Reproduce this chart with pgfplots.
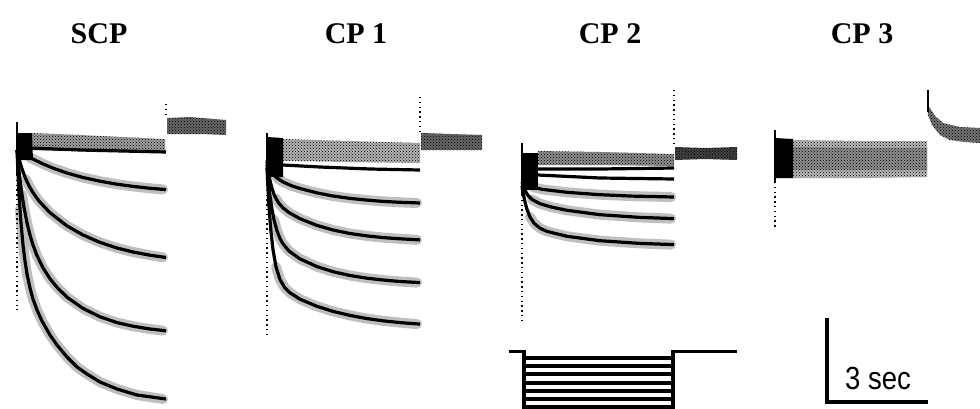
\documentclass[border=0pt]{standalone}
\usepackage{pgfplots}
\pgfplotsset{compat=1.18}
\usetikzlibrary{patterns}
\usepackage{fontspec}
\setmainfont{Liberation Serif}
\newfontfamily\sansf{Liberation Sans}
\tikzset{
  trace/.style={black, line width=3.2pt, line join=round},
  halo/.style={black!25, line width=10pt, line cap=round, line join=round},
  band/.style={fill=black!#1, draw=none},
  dots/.style={pattern=crosshatch dots, pattern color=black, draw=none},
  dotv/.style={black, line width=1.3pt, dash pattern=on 1.3pt off 3.5pt},
  prot/.style={black, line width=3.2pt},
  ttl/.style={anchor=base, font=\fontsize{30}{34}\selectfont\bfseries}}
\begin{document}
\begin{tikzpicture}
\useasboundingbox (0,0) rectangle (980pt,408pt);
\begin{axis}[at={(0,0)}, anchor=south west, scale only axis,
  width=980pt, height=408pt, xmin=0, xmax=980, ymin=0, ymax=408,
  y dir=reverse, hide axis, clip=false, no markers]

% ---------- titles ----------
\node[ttl] at (axis cs:99,43) {SCP};
\node[ttl] at (axis cs:356,43) {CP 1};
\node[ttl] at (axis cs:610,43) {CP 2};
\node[ttl] at (axis cs:862,43) {CP 3};

% ================= SCP (pulse 17 -> 166) =================
\addplot[halo] coordinates {(30,157.6)(42,163.5)(54,168.5)(67,173)(83,177.5)(100,181.2)(117,184.2)(133,186.4)(150,188.3)(163,189.4)};
\addplot[halo] coordinates {(26,179.4)(29,185.7)(33,192.7)(39,201)(50,212.7)(67,225.9)(83,235)(100,242.4)(117,248)(133,252)(150,255.2)(163,257.3)};
\addplot[halo] coordinates {(22,194.6)(24,207.4)(27,222.8)(30,235.1)(33,245)(37,255.6)(43,267.8)(50,278.7)(57,287.3)(67,297.2)(83,308.4)(100,316.8)(117,322.6)(133,326.2)(150,329)(163,330.6)};
\addplot[halo] coordinates {(20,209)(21,223)(23,245)(25,261)(27,274)(30,288)(33,299)(37,310)(42,321)(50,335)(57,345)(67,357)(77,367)(87,374)(100,382)(117,389)(137,395)(163,399)};
\addplot[band=38] coordinates {(30,133)(80,135)(165,139)(165,153)(80,151)(30,150)} -- cycle;
\addplot[dots] coordinates {(30,133)(80,135)(165,139)(165,153)(80,151)(30,150)} -- cycle;
\addplot[band=60] coordinates {(167,118)(190,117)(226,120)(226,135)(200,134)(167,134)} -- cycle;
\addplot[dots] coordinates {(167,118)(190,117)(226,120)(226,135)(200,134)(167,134)} -- cycle;
\addplot[fill=black, draw=none] coordinates {(17,133)(32,133)(33,160)(17,160)} -- cycle;
\addplot[black, line width=2pt] coordinates {(17,122)(17,175)};
\addplot[dotv] coordinates {(17,175)(17,310)};
\addplot[dotv] coordinates {(166,104)(166,118)};
\addplot[trace] coordinates {(17,145)(30,148)(80,150)(166,152)};
\addplot[trace] coordinates {(17,150)(23,153.7)(30,157.6)(42,163.5)(54,168.5)(67,173)(83,177.5)(100,181.2)(117,184.2)(133,186.4)(150,188.3)(166,189.6)};
\addplot[trace] coordinates {(17,150)(19,158.5)(21,165.6)(23,171.8)(26,179.4)(29,185.7)(33,192.7)(39,201)(50,212.7)(67,225.9)(83,235)(100,242.4)(117,248)(133,252)(150,255.2)(166,257.5)};
\addplot[trace] coordinates {(17,150)(18,160.7)(19,170.5)(20,179.3)(22,194.6)(24,207.4)(27,222.8)(30,235.1)(33,245)(37,255.6)(43,267.8)(50,278.7)(57,287.3)(67,297.2)(83,308.4)(100,316.8)(117,322.6)(133,326.2)(150,329)(166,330.8)};
\addplot[trace] coordinates {(17,150)(18,173)(19,193)(20,209)(21,223)(23,245)(25,261)(27,274)(30,288)(33,299)(37,310)(42,321)(50,335)(57,345)(67,357)(77,367)(87,374)(100,382)(117,389)(137,395)(166,399)};

% ================= CP 1 (pulse 267 -> 420) =================
\addplot[halo] coordinates {(277,178)(283,182)(292,185.9)(300,188.5)(317,192.9)(333,196)(350,198.4)(367,200.1)(383,201.4)(400,202.3)(417,203)};
\addplot[halo] coordinates {(276,198.6)(279,203.4)(283,207.9)(289,212.6)(300,218.7)(317,225.4)(333,230)(350,233.5)(367,235.9)(383,237.6)(400,238.8)(417,239.9)};
\addplot[halo] coordinates {(274,219.7)(277,230.9)(280,238.5)(283,243.8)(289,251)(300,258.9)(317,266.6)(333,271.7)(350,275.5)(367,278.2)(383,280)(400,281.5)(417,282.6)};
\addplot[halo] coordinates {(276,266.8)(280,279.7)(285,288)(290,292.8)(300,299.2)(317,306.3)(333,311.4)(350,315.4)(367,318.6)(383,320.8)(400,322.6)(417,324.1)};
\addplot[band=30] coordinates {(283,139)(350,141)(420,143)(420,163)(350,162)(283,161)} -- cycle;
\addplot[dots] coordinates {(283,139)(350,141)(420,143)(420,163)(350,162)(283,161)} -- cycle;
\addplot[band=60] coordinates {(421,133)(450,134)(482,135)(482,150)(450,150)(421,150)} -- cycle;
\addplot[dots] coordinates {(421,133)(450,134)(482,135)(482,150)(450,150)(421,150)} -- cycle;
\addplot[fill=black, draw=none] coordinates {(267,137)(283,138)(283,177)(267,177)} -- cycle;
\addplot[black, line width=2pt] coordinates {(267,133)(267,185)};
\addplot[dotv] coordinates {(267,185)(267,337)};
\addplot[dotv] coordinates {(420,97)(420,133)};
\addplot[trace] coordinates {(283,165)(320,167)(370,169)(420,170)};
\addplot[trace] coordinates {(267,160)(269,166)(271,170.4)(274,174.9)(277,178)(283,182)(292,185.9)(300,188.5)(317,192.9)(333,196)(350,198.4)(367,200.1)(383,201.4)(400,202.3)(420,203)};
\addplot[trace] coordinates {(267,162)(268,169.2)(269,175.3)(270,180.4)(272,188.4)(274,194.3)(276,198.6)(279,203.4)(283,207.9)(289,212.6)(300,218.7)(317,225.4)(333,230)(350,233.5)(367,235.9)(383,237.6)(400,238.8)(420,239.9)};
\addplot[trace] coordinates {(267,165)(268,176.8)(269,186.8)(270,195.4)(272,209.4)(274,219.7)(277,230.9)(280,238.5)(283,243.8)(289,251)(300,258.9)(317,266.6)(333,271.7)(350,275.5)(367,278.2)(383,280)(400,281.5)(420,282.6)};
\addplot[trace] coordinates {(267,168)(268,188.7)(269,205.9)(270,220.1)(271,231.8)(273,249.7)(276,266.8)(280,279.7)(285,288)(290,292.8)(300,299.2)(317,306.3)(333,311.4)(350,315.4)(367,318.6)(383,320.8)(400,322.6)(420,324.1)};

% ================= CP 2 (pulse 522 -> 674) =================
\addplot[halo] coordinates {(533,187.1)(542,189.3)(567,192.3)(600,194.7)(632,196.1)(671,197)};
\addplot[halo] coordinates {(532,199.5)(540,203.7)(552,207.2)(567,210.3)(600,214.7)(640,217.4)(671,218.6)};
\addplot[halo] coordinates {(530,217)(534,223.2)(540,228.2)(547,231.4)(567,236.3)(600,240.7)(640,243.4)(671,244.6)};
\addplot[band=45] coordinates {(538,151)(600,152)(674,154)(674,166)(600,165)(538,165)} -- cycle;
\addplot[dots] coordinates {(538,151)(600,152)(674,154)(674,166)(600,165)(538,165)} -- cycle;
\addplot[band=75] coordinates {(675,147)(705,148)(737,147)(737,160)(705,159)(675,160)} -- cycle;
\addplot[dots] coordinates {(675,147)(705,148)(737,147)(737,160)(705,159)(675,160)} -- cycle;
\addplot[fill=black, draw=none] coordinates {(522,153)(538,153)(538,190)(522,190)} -- cycle;
\addplot[black, line width=2pt] coordinates {(522,143)(522,195)};
\addplot[dotv] coordinates {(522,195)(522,320)};
\addplot[dotv] coordinates {(674,90)(674,147)};
\addplot[trace] coordinates {(538,169)(600,169)(674,168)};
\addplot[trace] coordinates {(538,175)(600,178)(674,179)};
\addplot[trace] coordinates {(522,178)(525,182.2)(528,184.7)(533,187.1)(542,189.3)(567,192.3)(600,194.7)(632,196.1)(674,197)};
\addplot[trace] coordinates {(522,182)(523,185.3)(525,190.4)(528,195.5)(532,199.5)(540,203.7)(552,207.2)(567,210.3)(600,214.7)(640,217.4)(674,218.6)};
\addplot[trace] coordinates {(522,186)(523,192.2)(525,202.1)(527,209.4)(530,217)(534,223.2)(540,228.2)(547,231.4)(567,236.3)(600,240.7)(640,243.4)(674,244.6)};

% ================= CP 3 (pulse 775 -> 927) =================
\addplot[band=28] coordinates {(793,140)(860,141)(927,141)(927,177)(860,178)(793,178)} -- cycle;
\addplot[band=45] coordinates {(793,147)(860,148)(927,148)(927,170)(860,170)(793,170)} -- cycle;
\addplot[dots] coordinates {(793,140)(860,141)(927,141)(927,177)(860,178)(793,178)} -- cycle;
\addplot[band=55] coordinates {(927,105)(930,108)(935,116)(943,123)(960,127)(980,128)(980,143)(965,142)(950,140)(940,135)(932,125)(928,115)} -- cycle;
\addplot[dots] coordinates {(927,105)(930,108)(935,116)(943,123)(960,127)(980,128)(980,143)(965,142)(950,140)(940,135)(932,125)(928,115)} -- cycle;
\addplot[black, line width=2pt] coordinates {(928,90)(928,112)};
\addplot[fill=black, draw=none] coordinates {(775,138)(793,139)(793,178)(775,178)} -- cycle;
\addplot[black, line width=2pt] coordinates {(775,130)(775,182)};
\addplot[dotv] coordinates {(775,182)(775,228)};

% ================= protocol =================
\addplot[prot] coordinates {(509,351.7)(524,351.7)(524,410)};
\addplot[prot] coordinates {(737,351.7)(673,351.7)(673,410)};
\foreach \yy in {358,366,374,383,391,399,407} {
  \addplot[black, line width=3.3pt] coordinates {(524,\yy)(673,\yy)};
}

% ================= scale bar =================
\addplot[black, line width=3.5pt, line join=miter] coordinates {(827,318)(827,402)(928,402)};
\node[anchor=base west, font=\sansf\fontsize{32}{36}\selectfont, xscale=0.86, inner sep=0pt] at (axis cs:845,389) {3 sec};
\end{axis}
\end{tikzpicture}
\end{document}
